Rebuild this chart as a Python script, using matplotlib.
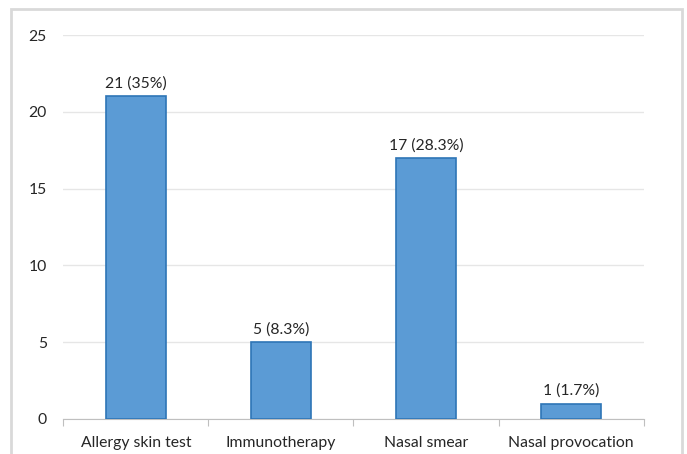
import matplotlib.pyplot as plt
import matplotlib.patches as mpatches
import numpy as np

categories = ["Allergy skin test", "Immunotherapy", "Nasal smear", "Nasal provocation"]
counts = [21, 5, 17, 1]
labels = ["21 (35%)", "5 (8.3%)", "17 (28.3%)", "1 (1.7%)"]
yticks = [0, 5, 10, 15, 20, 25]

plt.rcParams['font.family'] = ['Lato', 'DejaVu Sans']

fig = plt.figure(figsize=(6.87, 4.54), dpi=100)
ax = fig.add_axes([0.0924, 0.0771, 0.8443, 0.8458])

x = np.arange(len(categories))
ax.bar(x, counts, width=0.41, color="#5b9bd5", edgecolor="#2e75b6", linewidth=1.2, zorder=3)
for xi, c, lab in zip(x, counts, labels):
    ax.annotate(lab, (xi, c), xytext=(0, 4), textcoords="offset points",
                ha="center", va="bottom", fontsize=11.3, color="#262626")

ax.set_xlim(-0.5, len(categories) - 0.5)
ax.set_ylim(0, 25)
ax.set_yticks(yticks)
ax.set_yticklabels([str(t) for t in yticks], fontsize=11.3, color="#262626")
ax.yaxis.grid(True, color="#e6e6e6", linewidth=1, zorder=0)
ax.tick_params(axis="y", length=0, pad=12)

# category labels between boundary ticks
ax.set_xticks(np.arange(-0.5, len(categories)), minor=False)
ax.set_xticklabels([])
ax.tick_params(axis="x", which="major", length=5, color="#bfbfbf", direction="out")
ax.set_xticks(x, minor=True)
ax.set_xticklabels(categories, minor=True, fontsize=11.3, color="#262626")
ax.tick_params(axis="x", which="minor", length=0, pad=12)

for s in ["top", "right", "left"]:
    ax.spines[s].set_visible(False)
ax.spines["bottom"].set_color("#bfbfbf")

border = mpatches.Rectangle((11 / 687, -0.05), 671 / 687, 1.05 - 9 / 454,
                            transform=fig.transFigure, fill=False,
                            edgecolor="#d9d9d9", linewidth=2)
fig.patches.append(border)

fig.savefig("out.png", dpi=100)
